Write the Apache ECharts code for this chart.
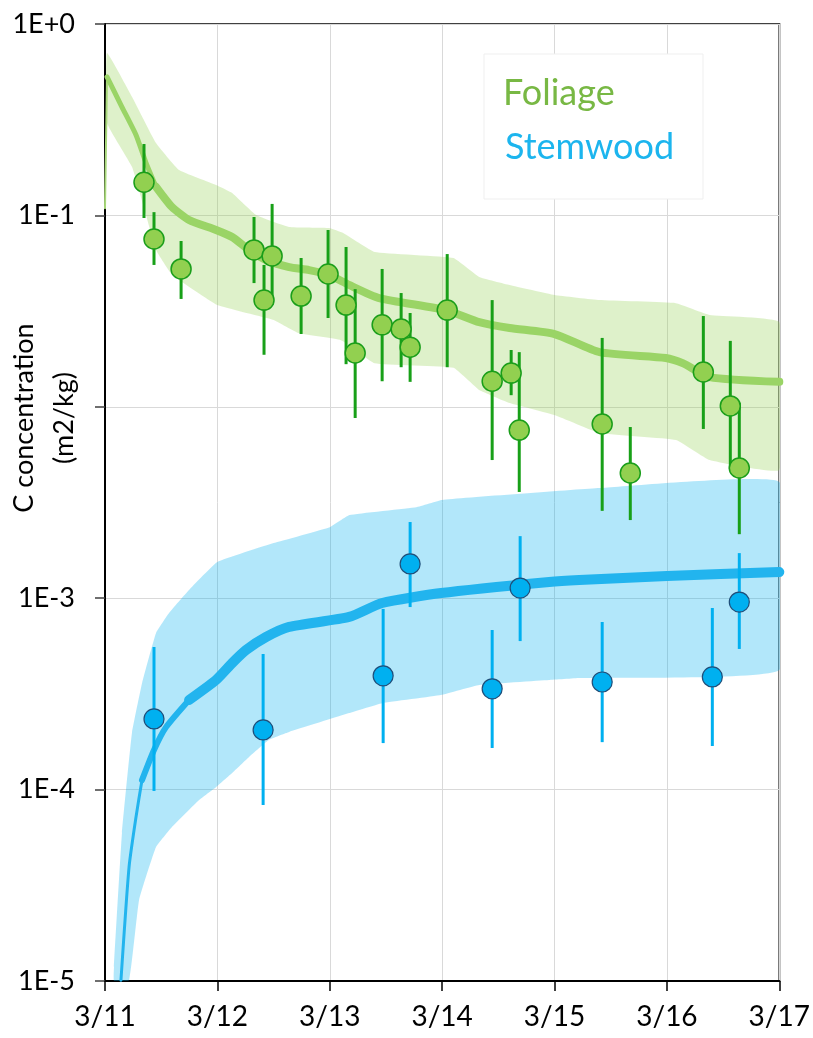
<!DOCTYPE html>
<html>
<head>
<meta charset="utf-8">
<script src="https://cdn.jsdelivr.net/npm/echarts@6/dist/echarts.min.js"></script>
<style>html,body{margin:0;padding:0;background:#fff;}#c{width:813px;height:1038px;}</style>
</head>
<body>
<div id="c"></div>
<script>
// ---- tick labels ----
const xTickLabels = ['3/11','3/12','3/13','3/14','3/15','3/16','3/17'];
const yTickExponents = [-5,-4,-3,-2,-1,0];
const yTickLabels = ['1E-5','1E-4','1E-3','','1E-1','1E+0'];

// ---- observations (days after 3/11 00:00) ----
const foliageT  = [0.347,0.436,0.677,1.326,1.487,1.415,1.745,1.985,2.145,2.226,2.466,2.635,2.715,3.045,3.445,3.614,3.686,4.424,4.674,5.324,5.564,5.644];
const foliageC  = [0.149,0.0753,0.0525,0.066,0.0614,0.0361,0.0379,0.0494,0.034,0.0191,0.0268,0.0255,0.0205,0.032,0.0136,0.015,0.00756,0.00813,0.00451,0.0152,0.0101,0.00479];
const foliageLo = [0.0969,0.0551,0.0366,0.0443,0.034,0.0187,0.024,0.0291,0.0167,0.00874,0.0136,0.0161,0.0135,0.0161,0.00527,0.0115,0.00359,0.00286,0.00256,0.00766,0.00473,0.00216];
const foliageHi = [0.236,0.104,0.0735,0.0981,0.1148,0.0551,0.0599,0.0839,0.0684,0.0412,0.0525,0.0393,0.0309,0.0628,0.0361,0.0198,0.0193,0.0229,0.00784,0.0298,0.0221,0.0105];

const stemT  = [0.436,1.407,2.475,2.715,3.445,3.694,4.424,5.404,5.644];
const stemC  = [0.000234,0.000205,0.000393,0.00151,0.000336,0.00113,0.000365,0.000388,0.000955];
const stemLo = [0.0000984,0.0000831,0.000175,0.000899,0.000165,0.000597,0.000177,0.000169,0.000543];
const stemHi = [0.000556,0.000511,0.000879,0.0025,0.000682,0.00211,0.000751,0.000889,0.00172];

// ---- model: foliage ----
const fMeanT = [0,0.018,0.151,0.276,0.365,0.454,0.596,0.748,0.988,1.131,1.282,1.433,1.638,1.816,1.994,2.172,2.439,3.036,3.33,3.6,4.0,4.4,4.99,5.14,5.38,6.0];
const fMean  = [0.109,0.529,0.368,0.263,0.188,0.141,0.1106,0.0946,0.0839,0.0771,0.066,0.0585,0.0537,0.0518,0.0488,0.0433,0.037,0.032,0.0277,0.0258,0.024,0.0193,0.018,0.0169,0.0143,0.0135];
const fUpT = [0.018,0.241,0.454,0.659,0.988,1.131,1.345,1.638,1.994,2.119,2.4,3.1,3.33,3.6,4.0,4.4,5.08,5.38,6.0];
const fUp  = [0.706,0.416,0.239,0.1726,0.1442,0.131,0.1005,0.087,0.0859,0.0809,0.0644,0.0599,0.0477,0.0433,0.0384,0.0361,0.0348,0.0302,0.0277];
const fLoT = [0.018,0.241,0.365,0.454,0.6,1.0,1.5,1.72,2.1,2.4,3.1,3.33,3.6,4.0,4.4,5.08,5.38,6.0];
const fLo  = [0.304,0.179,0.1005,0.066,0.0488,0.034,0.0284,0.0243,0.0223,0.0169,0.016,0.01225,0.01047,0.00906,0.0073,0.00671,0.00527,0.00468];

// ---- model: stemwood ----
const sMeanT = [0.142,0.214,0.276,0.329,0.436,0.543,0.748,0.988,1.131,1.255,1.433,1.638,2.172,2.466,2.99,3.952,4.22,5.0,6.0];
const sMean  = [1.01e-5,3.94e-5,7.2e-5,1.12e-4,1.61e-4,2.12e-4,2.94e-4,3.74e-4,4.58e-4,5.36e-4,6.27e-4,7.08e-4,7.98e-4,9.44e-4,1.064e-3,1.216e-3,1.245e-3,1.306e-3,1.37e-3];
const sUpT = [0.08,0.151,0.24,0.33,0.454,0.57,0.748,1.0,1.5,2.0,2.175,2.77,3.0,4.4,6.0];
const sUp  = [1.18e-5,5.93e-5,1.98e-4,3.6e-4,6.58e-4,8.37e-4,1.104e-3,1.545e-3,1.94e-3,2.35e-3,2.72e-3,2.99e-3,3.26e-3,3.76e-3,4.05e-3];
const sLoT = [0.08,0.214,0.303,0.454,0.596,0.837,0.988,1.131,1.282,1.46,1.638,2.172,2.466,2.99,3.33,3.95,4.22,6.0];
const sLo  = [1e-5,1.01e-5,2.65e-5,5.01e-5,6.38e-5,8.83e-5,1.03e-4,1.22e-4,1.48e-4,1.82e-4,2.0e-4,2.51e-4,2.83e-4,3.12e-4,3.52e-4,3.74e-4,3.83e-4,4.22e-4];

// ---- helpers ----
const zip = (a, b) => a.map((v, i) => [v, b[i]]);
const segment = (t, v, from, to) => zip(t, v).filter(p => p[0] >= from && p[0] <= to);

function bandSeries(upT, up, loT, lo, color) {
  return {
    type: 'custom', silent: true, z: 1, clip: true,
    data: [[upT[0], up[0]]],
    encode: {x: 0, y: 1},
    renderItem: (params, api) => {
      const pts = [];
      for (let i = 0; i < upT.length; i++) pts.push(api.coord([upT[i], up[i]]));
      for (let i = loT.length - 1; i >= 0; i--) pts.push(api.coord([loT[i], lo[i]]));
      return {type: 'polygon', shape: {points: pts, smooth: 0.1}, style: {fill: color}};
    }
  };
}
function errorSeries(t, lo, hi, color) {
  return {
    type: 'custom', silent: true, z: 3,
    data: t.map((v, i) => [v, lo[i], hi[i]]),
    encode: {x: 0, y: [1, 2]},
    renderItem: (params, api) => {
      const a = api.coord([api.value(0), api.value(1)]);
      const b = api.coord([api.value(0), api.value(2)]);
      return {type: 'line', shape: {x1: a[0], y1: a[1], x2: b[0], y2: b[1]},
              style: {stroke: color, lineWidth: 3}};
    }
  };
}
function lineSeries(data, color, width) {
  return {type: 'line', data: data, showSymbol: false, silent: true, z: 2,
          smooth: 0.2,
          lineStyle: {color: color, width: width, cap: 'round', join: 'round'}};
}
function pointSeries(t, c, fill, border, bw) {
  return {type: 'scatter', data: zip(t, c), symbolSize: 20, z: 4, silent: true,
          itemStyle: {color: fill, borderColor: border, borderWidth: bw, opacity: 1}};
}

const FONT = 'Lato, "Open Sans", sans-serif';
const chart = echarts.init(document.getElementById('c'), null, {renderer: 'canvas'});
chart.setOption({
  animation: false,
  backgroundColor: '#fff',
  grid: {left: 105, right: 33, top: 24, bottom: 57, show: true, borderColor: '#404040', borderWidth: 2, containLabel: false},
  xAxis: {
    type: 'value', min: 0, max: 6, interval: 1,
    axisLine: {show: true, onZero: false, lineStyle: {color: '#000', width: 2}},
    axisTick: {show: true, length: 10, lineStyle: {color: '#000', width: 1.5}},
    axisLabel: {margin: 22, fontSize: 28, fontFamily: FONT, color: '#000',
                formatter: v => xTickLabels[Math.round(v)] || ''},
    splitLine: {show: true, lineStyle: {color: '#d9d9d9', width: 1}}
  },
  yAxis: {
    type: 'log', logBase: 10, min: 1e-5, max: 1,
    axisLine: {show: true, lineStyle: {color: '#000', width: 2}},
    axisTick: {show: true, length: 10, lineStyle: {color: '#404040', width: 1.5}},
    axisLabel: {margin: 30, fontSize: 27, fontFamily: FONT, color: '#000',
                formatter: v => { const i = yTickExponents.indexOf(Math.round(Math.log10(v))); return i >= 0 ? yTickLabels[i] : ''; }},
    splitLine: {show: true, lineStyle: {color: '#d9d9d9', width: 1}},
    minorTick: {show: false}
  },
  graphic: [
    {type: 'text', x: 44, y: 418, rotation: Math.PI / 2, z: 10,
     style: {text: 'C concentration\n(m2/kg)', font: '27px ' + FONT, fill: '#000',
             align: 'center', verticalAlign: 'middle', lineHeight: 40}},
    {type: 'rect', shape: {x: 484, y: 54, width: 219, height: 145}, z: 10,
     style: {fill: '#fff', stroke: '#efefef', lineWidth: 1}},
    {type: 'text', x: 503, y: 93, z: 11,
     style: {text: 'Foliage', font: '36px ' + FONT, fill: '#78b844', verticalAlign: 'middle'}},
    {type: 'text', x: 505, y: 147, z: 11,
     style: {text: 'Stemwood', font: '36px ' + FONT, fill: '#1cb5ee', verticalAlign: 'middle'}}
  ],
  series: [
    bandSeries(fUpT, fUp, fLoT, fLo, 'rgba(146,208,80,0.3)'),
    bandSeries(sUpT, sUp, sLoT, sLo, 'rgba(0,176,240,0.3)'),
    lineSeries(segment(fMeanT, fMean, 0, 0.018), '#a8d87a', 2),
    lineSeries(segment(fMeanT, fMean, 0.018, 0.454), '#9ad466', 5),
    lineSeries(segment(fMeanT, fMean, 0.454, 6), '#9ad466', 8),
    lineSeries(segment(sMeanT, sMean, 0, 0.33), '#22b4ee', 3),
    lineSeries(segment(sMeanT, sMean, 0.329, 0.75), '#22b4ee', 6),
    lineSeries(segment(sMeanT, sMean, 0.748, 6), '#22b4ee', 10),
    errorSeries(foliageT, foliageLo, foliageHi, '#18a018'),
    errorSeries(stemT, stemLo, stemHi, '#00b0f0'),
    pointSeries(foliageT, foliageC, '#92d050', '#1a9e1a', 1.5),
    pointSeries(stemT, stemC, '#00b0f0', '#1f4e79', 1.2)
  ]
});
</script>
</body>
</html>
